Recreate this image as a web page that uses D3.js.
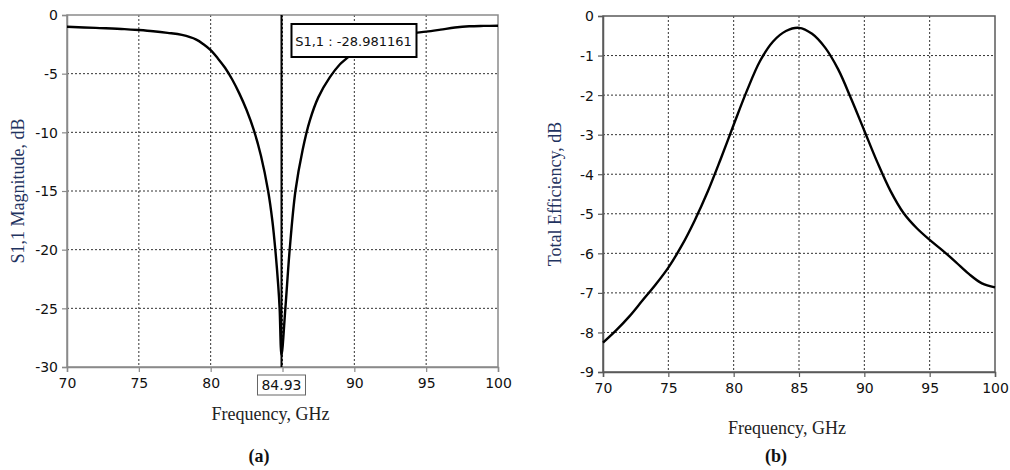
<!DOCTYPE html>
<html>
<head>
<meta charset="utf-8">
<script src="https://cdn.jsdelivr.net/npm/d3@7"></script>
<style>
  body { margin: 0; background: #fff; }
  svg text { font-family: "DejaVu Sans", sans-serif; }
</style>
</head>
<body>
<div id="chart"></div>
<script>
// (a) S1,1 magnitude
var freqA = [70, 72, 74, 75, 76, 77, 78, 79, 79.5, 80, 80.5, 81, 81.5, 82, 82.5, 83, 83.5, 84, 84.3, 84.5, 84.7, 84.8, 84.93, 85.2, 85.5, 85.9, 86.4, 86.9, 87.5, 88.3, 89, 89.5, 90, 91, 92, 93, 94, 95, 96, 97, 98, 99, 100]
var s11 = [-1.0, -1.1, -1.2, -1.28, -1.38, -1.52, -1.7, -2.1, -2.5, -3.0, -3.7, -4.5, -5.5, -6.7, -8.1, -9.8, -12.0, -15.0, -17.6, -20, -23, -25, -28.98, -25, -20, -15, -11.5, -9.0, -7.0, -5.3, -4.2, -3.66, -3.1, -2.5, -2.05, -1.75, -1.55, -1.42, -1.25, -1.07, -0.96, -0.93, -0.92]
var markerFreq = 84.93
var markerText = "S1,1 : -28.981161"

// (b) total efficiency
var freqB = [70, 71, 72, 73, 74, 75, 76, 77, 78, 79, 80, 81, 82, 83, 84, 85, 86, 87, 88, 89, 90, 91, 92, 93, 94, 95, 96, 97, 98, 99, 100]
var eff = [-8.26, -7.95, -7.6, -7.2, -6.8, -6.36, -5.82, -5.18, -4.45, -3.62, -2.75, -1.9, -1.15, -0.65, -0.38, -0.3, -0.45, -0.8, -1.35, -2.1, -2.9, -3.7, -4.42, -4.98, -5.36, -5.66, -5.93, -6.22, -6.52, -6.76, -6.86]

var xTicks = [70, 75, 80, 85, 90, 95, 100]
var yTicksA = [0, -5, -10, -15, -20, -25, -30]
var yTicksB = [0, -1, -2, -3, -4, -5, -6, -7, -8, -9]

var svg = d3.select("#chart").append("svg")
    .attr("width", 1010)
    .attr("height", 470)

function drawPanel(opt) {
    let g = svg.append("g")
    let x = d3.scaleLinear().domain([70, 100]).range([opt.left, opt.right])
    let y = d3.scaleLinear().domain(opt.yDomain).range([opt.bottom, opt.top])

    // grid
    g.selectAll(".gx").data(xTicks.slice(1, -1)).enter().append("line")
        .attr("x1", d => x(d)).attr("x2", d => x(d))
        .attr("y1", opt.top).attr("y2", opt.bottom)
        .attr("stroke", "#333").attr("stroke-width", 1).attr("stroke-dasharray", "2,2")
    g.selectAll(".gy").data(opt.yTicks.slice(1, -1)).enter().append("line")
        .attr("x1", opt.left).attr("x2", opt.right)
        .attr("y1", d => y(d)).attr("y2", d => y(d))
        .attr("stroke", "#333").attr("stroke-width", 1).attr("stroke-dasharray", "2,2")

    // frame
    g.append("rect")
        .attr("x", opt.left).attr("y", opt.top)
        .attr("width", opt.right - opt.left).attr("height", opt.bottom - opt.top)
        .attr("fill", "none").attr("stroke", opt.frame).attr("stroke-width", 1.5)

    // axes (plain hyphen for negatives, like the original)
    let xAxis = g.append("g").attr("transform", `translate(0,${opt.bottom})`)
        .call(d3.axisBottom(x).tickValues(xTicks).tickFormat(d => String(d)).tickSize(5).tickPadding(6))
    let yAxis = g.append("g").attr("transform", `translate(${opt.left},0)`)
        .call(d3.axisLeft(y).tickValues(opt.yTicks).tickFormat(d => String(d)).tickSize(5).tickPadding(4))
    ;[xAxis, yAxis].forEach(a => {
        a.select(".domain").attr("stroke", opt.frame).attr("stroke-width", 1.5)
        a.selectAll(".tick line").attr("stroke", opt.frame).attr("stroke-width", 1.2)
        a.selectAll("text").attr("font-size", 14).attr("fill", "#111")
            .style("font-family", "'DejaVu Sans', sans-serif")
    })
    yAxis.selectAll("text").attr("dy", "0.35em")

    // curve
    let line = d3.line()
        .x(d => x(d[0]))
        .y(d => y(d[1]))
        .curve(d3.curveCatmullRom.alpha(0.5))
    g.append("path")
        .datum(d3.zip(opt.xs, opt.ys))
        .attr("d", line)
        .attr("fill", "none")
        .attr("stroke", "#000")
        .attr("stroke-width", 2.4)
        .attr("stroke-linejoin", "round")

    // titles
    g.append("text")
        .attr("x", (opt.left + opt.right) / 2 - 12)
        .attr("y", opt.xTitleY)
        .attr("text-anchor", "middle")
        .style("font-family", "'Liberation Serif', serif")
        .attr("font-size", 18)
        .attr("fill", "#222")
        .text("Frequency, GHz")
    g.append("text")
        .attr("transform", `translate(${opt.yTitleX},${(opt.top + opt.bottom) / 2}) rotate(-90)`)
        .attr("text-anchor", "middle")
        .style("font-family", "'Liberation Serif', serif")
        .attr("font-size", 18)
        .attr("fill", "#1f3360")
        .text(opt.yTitle)
    g.append("text")
        .attr("x", opt.capX)
        .attr("y", 462)
        .attr("text-anchor", "middle")
        .style("font-family", "'Liberation Serif', serif")
        .attr("font-size", 18)
        .attr("font-weight", "bold")
        .attr("fill", "#111")
        .text(opt.caption)

    return { g: g, x: x, y: y, xAxis: xAxis }
}

var a = drawPanel({
    left: 67, right: 498, top: 15, bottom: 367,
    yDomain: [-30, 0], yTicks: yTicksA, xs: freqA, ys: s11,
    frame: "#8a8a8a", xTitleY: 420, yTitleX: 24, yTitle: "S1,1 Magnitude, dB",
    caption: "(a)", capX: 259
})

var b = drawPanel({
    left: 603, right: 995, top: 16, bottom: 372,
    yDomain: [-9, 0], yTicks: yTicksB, xs: freqB, ys: eff,
    frame: "#5a5a5a", xTitleY: 434, yTitleX: 561, yTitle: "Total Efficiency, dB",
    caption: "(b)", capX: 776
})

// marker on panel (a)
var mx = a.x(markerFreq)
a.g.append("line")
    .attr("x1", mx).attr("x2", mx)
    .attr("y1", a.y(0)).attr("y2", a.y(-30))
    .attr("stroke", "#000").attr("stroke-width", 2)

var label = a.g.append("g")
label.append("rect")
    .attr("x", mx + 10).attr("y", 24)
    .attr("width", 125).attr("height", 33)
    .attr("fill", "#fff").attr("stroke", "#000").attr("stroke-width", 2)
label.append("text")
    .attr("x", mx + 72).attr("y", 41)
    .attr("dy", "0.35em")
    .attr("text-anchor", "middle")
    .attr("font-size", 13)
    .attr("fill", "#111")
    .text(markerText)

// frequency readout box on the x axis
a.g.append("rect")
    .attr("x", mx - 24).attr("y", 375)
    .attr("width", 48).attr("height", 20)
    .attr("fill", "#fff").attr("stroke", "#666").attr("stroke-width", 1)
a.g.append("text")
    .attr("x", mx).attr("y", 385)
    .attr("dy", "0.35em")
    .attr("text-anchor", "middle")
    .attr("font-size", 14)
    .attr("fill", "#111")
    .text(markerFreq.toFixed(2))
// hide the 85 tick label under the readout box
a.xAxis.selectAll(".tick").filter(d => d === 85).select("text").remove()
</script>
</body>
</html>
